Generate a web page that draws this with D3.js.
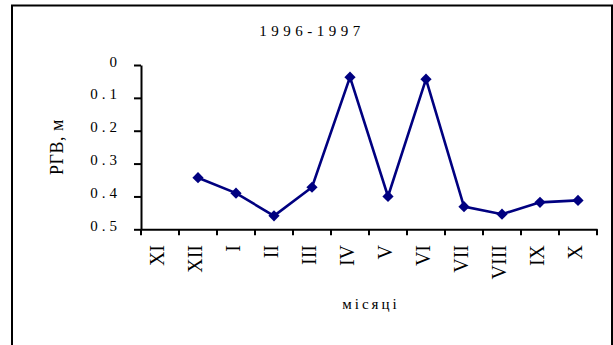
<!DOCTYPE html>
<html>
<head>
<meta charset="utf-8">
<script src="https://cdn.jsdelivr.net/npm/d3@7"></script>
<style>
  html, body { margin: 0; padding: 0; background: #fff; }
  svg { display: block; }
  text { font-family: "Liberation Serif", "Times New Roman", serif; fill: #000; }
</style>
</head>
<body>
<svg id="chart" width="613" height="345"></svg>
<script>
// Monthly groundwater level depth (РГВ, м), hydrological year 1996-1997
const months = ["XI", "XII", "I", "II", "III", "IV", "V", "VI", "VII", "VIII", "IX", "X"];
const levels = [null, 0.343, 0.39, 0.459, 0.372, 0.037, 0.40, 0.043, 0.431, 0.454, 0.418, 0.412];
const yTicks = [0, 0.1, 0.2, 0.3, 0.4, 0.5];
const yTickLabels = ["0", "0.1", "0.2", "0.3", "0.4", "0.5"];
const chartTitle = "1996-1997";
const yTitle = "РГВ, м";
const xTitle = "місяці";

const svg = d3.select("#chart");

// chart frame
svg.append("rect")
  .attr("x", 12).attr("y", 5.5)
  .attr("width", 600).attr("height", 350)
  .attr("fill", "none").attr("stroke", "#000").attr("stroke-width", 2);

const plot = { left: 141, right: 597, top: 65, bottom: 229.3 };

const x = d3.scaleBand().domain(months).range([plot.left, plot.right]).padding(0);
const y = d3.scaleLinear().domain([0, 0.5]).range([plot.top, plot.bottom]);

// y axis
const yAxis = svg.append("g")
  .attr("transform", `translate(${plot.left},0)`)
  .call(d3.axisLeft(y).tickValues(yTicks).tickSize(7).tickSizeOuter(0).tickFormat(() => ""));
yAxis.select(".domain").attr("stroke", "#000").attr("stroke-width", 2);
yAxis.selectAll(".tick line").attr("stroke", "#000").attr("stroke-width", 2);

svg.append("g").selectAll("text")
  .data(yTicks)
  .join("text")
  .attr("x", 117 + 4)
  .attr("y", d => y(d) + 1.5)
  .attr("text-anchor", "end")
  .style("font-size", "15px")
  .style("letter-spacing", "4px")
  .text((d, i) => yTickLabels[i]);

// x axis: ticks at category boundaries
const xAxis = svg.append("g")
  .attr("transform", `translate(0,${plot.bottom})`)
  .call(d3.axisBottom(x).tickSize(0).tickFormat(() => ""));
xAxis.select(".domain").attr("stroke", "#000").attr("stroke-width", 2);

const bounds = months.map(m => x(m)).concat([x(months[months.length - 1]) + x.bandwidth()]);
svg.append("g").selectAll("line")
  .data(bounds)
  .join("line")
  .attr("x1", d => d).attr("x2", d => d)
  .attr("y1", plot.bottom).attr("y2", plot.bottom + 6)
  .attr("stroke", "#000").attr("stroke-width", 2);

svg.append("g").selectAll("text")
  .data(months)
  .join("text")
  .attr("transform", d => `translate(${x(d) + x.bandwidth() / 2 - 3 + 7},245) rotate(-90)`)
  .attr("text-anchor", "end")
  .style("font-size", "20px")
  .text(d => d);

// series line with diamond markers
const line = d3.line()
  .defined(d => d.v !== null)
  .x(d => x(d.m) + x.bandwidth() / 2)
  .y(d => y(d.v));
const pts = months.map((m, i) => ({ m, v: levels[i] }));

svg.append("path")
  .datum(pts)
  .attr("d", line)
  .attr("fill", "none")
  .attr("stroke", "#000080")
  .attr("stroke-width", 2.6)
  .attr("stroke-linejoin", "miter");

svg.append("g").selectAll("path")
  .data(pts.filter(d => d.v !== null))
  .join("path")
  .attr("transform", d => `translate(${x(d.m) + x.bandwidth() / 2},${y(d.v)})`)
  .attr("d", d3.symbol().type(d3.symbolDiamond2).size(80))
  .attr("fill", "#000080");

// titles
svg.append("text")
  .attr("x", 312).attr("y", 36)
  .attr("text-anchor", "middle")
  .style("font-size", "15px")
  .style("letter-spacing", "4.5px")
  .text(chartTitle);

svg.append("text")
  .attr("transform", "translate(63,147) rotate(-90)")
  .attr("text-anchor", "middle")
  .style("font-size", "18px")
  .style("letter-spacing", "0.5px")
  .text(yTitle);

svg.append("text")
  .attr("x", 371).attr("y", 309)
  .attr("text-anchor", "middle")
  .style("font-size", "15px")
  .style("letter-spacing", "3px")
  .text(xTitle);
</script>
</body>
</html>
